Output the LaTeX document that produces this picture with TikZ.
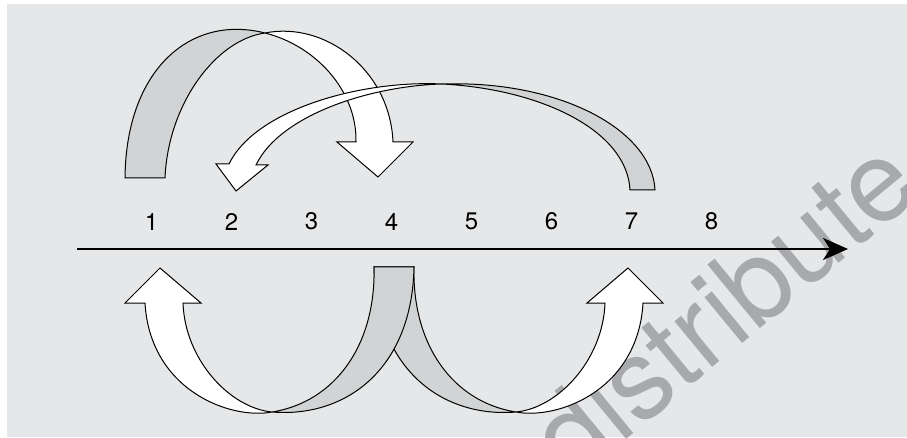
\documentclass[tikz,border=0pt]{standalone}
\usepackage{fontspec}
\setmainfont{TeX Gyre Heros}
\usetikzlibrary{arrows.meta}
\definecolor{bg}{HTML}{E6E7E8}
\definecolor{band}{HTML}{D1D3D4}
\definecolor{wmgray}{HTML}{A7A9AC}
\tikzset{
  outline/.style={draw=black, line width=1pt, line join=miter},
  axisline/.style={line width=2.6pt, -{Stealth[length=25pt,width=22pt,inset=7pt]}},
  num/.style={font=\fontsize{24}{24}\selectfont, inner sep=0pt},
  wmark/.style={text=wmgray, font=\fontsize{113}{113}\selectfont, inner sep=0pt},
}
\def\pathA{(125,178) .. controls (126,70) and (190,14) .. (265,33)
  .. controls (315,45.5) and (357,90) .. (356,142) -- (337,142) -- (378,177)
  -- (413,142) -- (393,142) .. controls (390,70) and (325,21) .. (265,33)
  .. controls (215,40) and (168,105) .. (165,178) -- cycle}
\def\pathB{(630,190) .. controls (627,130) and (540,89) .. (442,84)
  .. controls (360,80) and (255,110) .. (229,164) -- (216,164) -- (236,191)
  -- (268,165) -- (256,165) .. controls (280,115) and (370,86) .. (442,84)
  .. controls (560,80) and (652,130) .. (655,190) -- cycle}
\def\pathC{(374,267) .. controls (376,345) and (335,402) .. (272,412)
  .. controls (230,420) and (150,390) .. (145,303) -- (125,303) -- (160,268)
  -- (201,303) -- (183,303) .. controls (185,360) and (230,408) .. (272,412)
  .. controls (345,418) and (412,370) .. (414,267) -- cycle}
\newcommand\drawbottomribbon{%
  \fill[white] \pathC;
  \begin{scope}
    \clip (272,0) rectangle (500,438);
    \fill[band] \pathC;
  \end{scope}
  \draw[outline] \pathC;
}
\begin{document}
\begin{tikzpicture}[x=1pt,y=-1pt]
\useasboundingbox (0,0) rectangle (907,438);
\fill[bg] (7,4) rectangle (907,437);
% watermark
\begin{scope}
  \clip (7,4) rectangle (907,437);
  \node[wmark, rotate=39.5] (wm) at (722,308) {distribute};
\end{scope}
% top arrow 1 -> 4
\fill[white] \pathA;
\begin{scope}
  \clip (0,0) rectangle (265,438);
  \fill[band] \pathA;
\end{scope}
\draw[outline] \pathA;
% top arrow 7 -> 2
\fill[white] \pathB;
\begin{scope}
  \clip (442,0) rectangle (907,438);
  \fill[band] \pathB;
\end{scope}
\draw[outline] \pathB;
% bottom arrow 4 -> 7 (mirror of 4 -> 1), behind
\begin{scope}[cm={-1,0,0,1,(788,0)}]
  \drawbottomribbon
\end{scope}
% bottom arrow 4 -> 1
\drawbottomribbon
% axis
\coordinate (axL) at (77,249);
\coordinate (axR) at (848,249);
\draw[axisline] (axL) -- (axR);
\foreach \i in {1,...,8}
  \node[num] (n\i) at ({71.5+80*\i},221.5) {\i};
\end{tikzpicture}
\end{document}
